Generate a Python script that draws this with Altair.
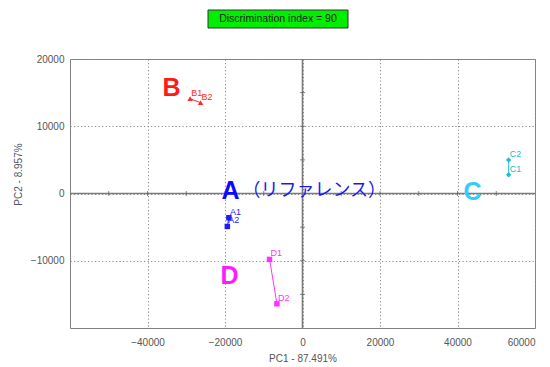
import altair as alt
import pandas as pd

# PCA scores of each sample
samples = ["A1", "A2", "B1", "B2", "C1", "C2", "D1", "D2"]
groups = ["A", "A", "B", "B", "C", "C", "D", "D"]
pc1 = [-19000, -19400, -29000, -26300, 53200, 53200, -8500, -6600]
pc2 = [-3600, -4900, 14100, 13500, 2800, 5000, -9800, -16400]

# group captions placed in score space
caption_text = ["B", "A", "C", "D"]
caption_pc1 = [-33800, -18600, 43900, -18800]
caption_pc2 = [15700, 300, 150, -12200]
caption_color = ["#ff1a1a", "#0a0aff", "#33ccff", "#ff1aff"]
reference_note = "（リファレンス）"
reference_pc1 = -15500
reference_pc2 = 300

x_ticks = [-40000, -20000, 0, 20000, 40000, 60000]
y_ticks = [-10000, 0, 10000, 20000]
x_minor = [-50000, -40000, -30000, -20000, -10000, 10000, 20000, 30000, 40000, 50000]
y_minor = [-15000, -10000, -5000, 5000, 10000, 15000]

group_names = ["A", "B", "C", "D"]
group_colors = ["#1c1cff", "#ff2a2a", "#22c0c8", "#ff33ff"]
group_shapes = ["square", "triangle-up", "diamond", "square"]

title_text = "Discrimination index = 90"

df = pd.DataFrame({"sample": samples, "group": groups, "pc1": pc1, "pc2": pc2})
df["order"] = range(len(df))
cap = pd.DataFrame({"t": caption_text, "x": caption_pc1, "y": caption_pc2, "c": caption_color})

xs = alt.Scale(domain=[-60000, 60000], nice=False, zero=False)
ys = alt.Scale(domain=[-20000, 20000], nice=False, zero=False)

font = "Liberation Sans"
x_axis = alt.Axis(values=x_ticks, format="d", grid=True, gridDash=[1.2, 2.3], gridColor="#8a8a8a",
                  ticks=False, domain=False, labelFont=font, labelFontSize=10, labelColor="#555555",
                  labelPadding=9, title="PC1 - 87.491%", titleFont=font, titleFontSize=10,
                  titleFontWeight="normal", titleColor="#555555", titlePadding=6)
y_axis = alt.Axis(values=y_ticks, format="d", grid=True, gridDash=[1.2, 2.3], gridColor="#8a8a8a",
                  ticks=False, domain=False, labelFont=font, labelFontSize=10, labelColor="#555555",
                  labelPadding=6, title="PC2 - 8.957%", titleFont=font, titleFontSize=10,
                  titleFontWeight="normal", titleColor="#555566", titleX=-47, titleY=115)

color = alt.Color("group:N", scale=alt.Scale(domain=group_names, range=group_colors), legend=None)
shape = alt.Shape("group:N", scale=alt.Scale(domain=group_names, range=group_shapes), legend=None)

base = alt.Chart(df)

frame = base.mark_point(opacity=0).encode(x=alt.X("pc1:Q", scale=xs, axis=x_axis),
                                           y=alt.Y("pc2:Q", scale=ys, axis=y_axis))

zero_v = alt.Chart(pd.DataFrame({"v": [0]})).mark_rule(color="#7a7a7a", strokeWidth=1.6).encode(
    x=alt.X("v:Q", scale=xs))
zero_h = alt.Chart(pd.DataFrame({"v": [0]})).mark_rule(color="#7a7a7a", strokeWidth=1.6).encode(
    y=alt.Y("v:Q", scale=ys))

ticks_h = alt.Chart(pd.DataFrame({"v": x_minor, "z": 0})).mark_tick(
    orient="vertical", size=5, thickness=1, color="#555555").encode(
    x=alt.X("v:Q", scale=xs), y=alt.Y("z:Q", scale=ys))
ticks_v = alt.Chart(pd.DataFrame({"v": y_minor, "z": 0})).mark_tick(
    orient="horizontal", size=5, thickness=1, color="#555555").encode(
    y=alt.Y("v:Q", scale=ys), x=alt.X("z:Q", scale=xs))

lines = base.mark_line(strokeWidth=1).encode(
    x=alt.X("pc1:Q", scale=xs), y=alt.Y("pc2:Q", scale=ys), color=color, detail="group:N",
    order="order:Q")
points = base.mark_point(filled=True, size=30, opacity=1).encode(
    x=alt.X("pc1:Q", scale=xs), y=alt.Y("pc2:Q", scale=ys), color=color, shape=shape)
labels = base.mark_text(align="left", baseline="bottom", dx=1, dy=-1, font=font, fontSize=9).encode(
    x=alt.X("pc1:Q", scale=xs), y=alt.Y("pc2:Q", scale=ys), text="sample:N", color=color)

captions = alt.Chart(cap).mark_text(font="Liberation Sans", fontSize=25, fontWeight="bold",
                                    baseline="middle", align="center").encode(
    x=alt.X("x:Q", scale=xs), y=alt.Y("y:Q", scale=ys), text="t:N",
    color=alt.Color("c:N", scale=None))
note = alt.Chart(pd.DataFrame({"t": [reference_note], "x": [reference_pc1], "y": [reference_pc2]})).mark_text(
    font="Noto Sans CJK JP", fontSize=18, baseline="middle", align="left", color="#1a1aee").encode(
    x=alt.X("x:Q", scale=xs), y=alt.Y("y:Q", scale=ys), text="t:N")

title_df = pd.DataFrame({"t": [title_text]})
title_box = alt.Chart(title_df).mark_rect(fill="#00ee00", stroke="#333333", strokeWidth=1).encode(
    x=alt.value(138), x2=alt.value(278), y=alt.value(-49), y2=alt.value(-31))
title_lbl = alt.Chart(title_df).mark_text(font=font, fontSize=10.5, color="#1a1a1a",
                                          baseline="middle", align="center").encode(
    x=alt.value(208), y=alt.value(-40), text="t:N")

chart = alt.layer(frame, zero_v, zero_h, ticks_h, ticks_v, lines, points, labels,
                  captions, note, title_box, title_lbl).properties(
    width=465, height=269,
    autosize=alt.AutoSizeParams(type="none"),
    padding={"left": 70, "top": 59, "right": 15, "bottom": 39},
    background="white",
).configure_view(stroke="#808080", strokeWidth=1)

chart.save("out.html", embed_options={"renderer": "svg", "actions": False})
